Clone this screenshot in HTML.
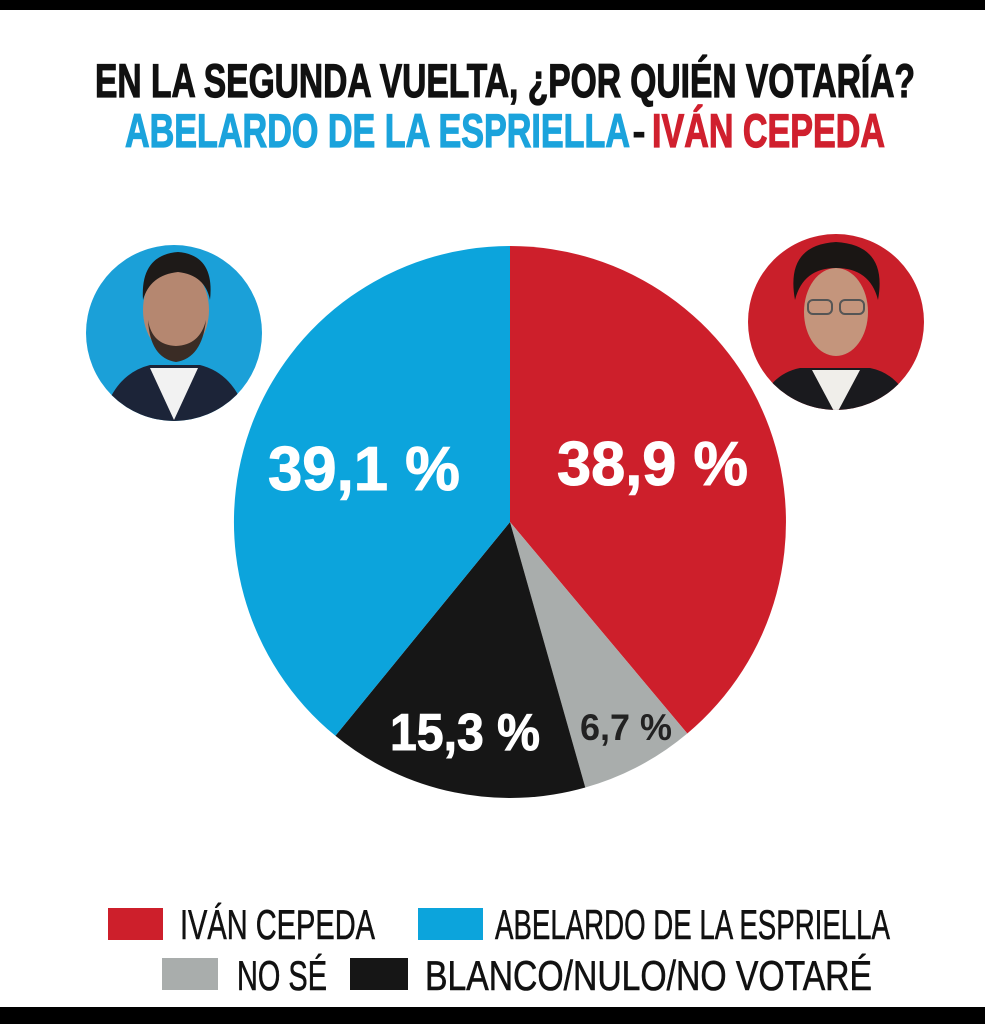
<!DOCTYPE html>
<html><head><meta charset="utf-8"><style>
html,body{margin:0;padding:0;background:#fff;}
svg{display:block;}
text{font-family:"Liberation Sans Narrow","Liberation Sans",sans-serif;}
</style></head><body>
<svg width="985" height="1024" viewBox="0 0 985 1024" xmlns="http://www.w3.org/2000/svg">
<rect width="985" height="1024" fill="#fff"/>
<rect x="0" y="0" width="985" height="10" fill="#000"/>
<rect x="0" y="1007" width="985" height="17" fill="#000"/>

<text x="95" y="97" font-size="47" font-weight="bold" fill="#111" stroke="#111" stroke-width="1.2" textLength="820" lengthAdjust="spacingAndGlyphs">EN LA SEGUNDA VUELTA, ¿POR QUIÉN VOTARÍA?</text>
<text x="125" y="147" font-size="47" font-weight="bold" fill="#1ba3dc" stroke="#1ba3dc" stroke-width="1.2" textLength="505" lengthAdjust="spacingAndGlyphs">ABELARDO DE LA ESPRIELLA</text>
<text x="632" y="147" font-size="47" font-weight="bold" fill="#111" textLength="14" lengthAdjust="spacingAndGlyphs">-</text>
<text x="652" y="147" font-size="47" font-weight="bold" fill="#d0202e" stroke="#d0202e" stroke-width="1.2" textLength="233" lengthAdjust="spacingAndGlyphs">IVÁN CEPEDA</text>

<path d="M510,522 L510,246 A276,276 0 0 1 687.3,733.5 Z" fill="#cd1f2b"/>
<path d="M510,522 L687.3,733.5 A276,276 0 0 1 585.3,787.5 Z" fill="#a9adac"/>
<path d="M510,522 L585.3,787.5 A276,276 0 0 1 335.4,735.8 Z" fill="#161616"/>
<path d="M510,522 L335.4,735.8 A276,276 0 0 1 510,246 Z" fill="#0ca4dc"/>

<text x="268" y="490" font-size="62" font-weight="bold" fill="#fff" stroke="#fff" stroke-width="1" textLength="192" lengthAdjust="spacingAndGlyphs">39,1 %</text>
<text x="557" y="485" font-size="62" font-weight="bold" fill="#fff" stroke="#fff" stroke-width="1" textLength="191" lengthAdjust="spacingAndGlyphs">38,9 %</text>
<text x="390" y="750" font-size="52" font-weight="bold" fill="#fff" stroke="#fff" stroke-width="1" textLength="150" lengthAdjust="spacingAndGlyphs">15,3 %</text>
<text x="580" y="740" font-size="37" font-weight="bold" fill="#222" textLength="92" lengthAdjust="spacingAndGlyphs">6,7 %</text>

<defs>
<clipPath id="cl"><circle cx="174" cy="333" r="88"/></clipPath>
<clipPath id="cr"><circle cx="836" cy="322" r="88"/></clipPath>
</defs>
<circle cx="174" cy="333" r="88" fill="#1ba0d8"/>
<g clip-path="url(#cl)">
<path d="M100,430 Q110,375 150,365 L200,365 Q240,375 250,430 Z" fill="#1c2438"/>
<path d="M150,368 L174,420 L198,368 Z" fill="#f2f2f2"/>
<ellipse cx="176" cy="310" rx="33" ry="45" fill="#b58770"/>
<path d="M143,300 Q140,255 178,252 Q215,255 210,300 Q205,275 178,272 Q150,275 143,300 Z" fill="#1e1a18"/>
<path d="M148,320 Q150,358 176,362 Q202,358 206,320 Q200,345 176,346 Q152,345 148,320 Z" fill="#3a2c25"/>
</g>

<circle cx="836" cy="322" r="88" fill="#c91f2a"/>
<g clip-path="url(#cr)">
<path d="M755,420 Q765,375 800,368 L870,368 Q905,375 915,420 Z" fill="#1a1a1e"/>
<path d="M812,370 L836,415 L860,370 Z" fill="#f0eeea"/>
<ellipse cx="836" cy="312" rx="32" ry="44" fill="#c4957c"/>
<path d="M795,300 Q785,245 836,242 Q888,245 878,300 Q870,268 836,268 Q803,268 795,300 Z" fill="#1a1614"/>
<rect x="808" y="300" width="24" height="14" rx="5" fill="none" stroke="#555" stroke-width="2"/>
<rect x="840" y="300" width="24" height="14" rx="5" fill="none" stroke="#555" stroke-width="2"/>
</g>

<rect x="108" y="908" width="55" height="32" fill="#cd1f2b"/>
<text x="180" y="939" font-size="42" fill="#111" stroke="#111" stroke-width="0.6" textLength="195" lengthAdjust="spacingAndGlyphs">IVÁN CEPEDA</text>
<rect x="418" y="908" width="65" height="32" fill="#0ca4dc"/>
<text x="495" y="939" font-size="42" fill="#111" stroke="#111" stroke-width="0.6" textLength="395" lengthAdjust="spacingAndGlyphs">ABELARDO DE LA ESPRIELLA</text>
<rect x="162" y="958" width="56" height="32" fill="#a9adac"/>
<text x="237" y="990" font-size="42" fill="#111" stroke="#111" stroke-width="0.6" textLength="90" lengthAdjust="spacingAndGlyphs">NO SÉ</text>
<rect x="350" y="958" width="58" height="32" fill="#161616"/>
<text x="425" y="990" font-size="42" fill="#111" stroke="#111" stroke-width="0.6" textLength="447" lengthAdjust="spacingAndGlyphs">BLANCO/NULO/NO VOTARÉ</text>
</svg>
</body></html>
